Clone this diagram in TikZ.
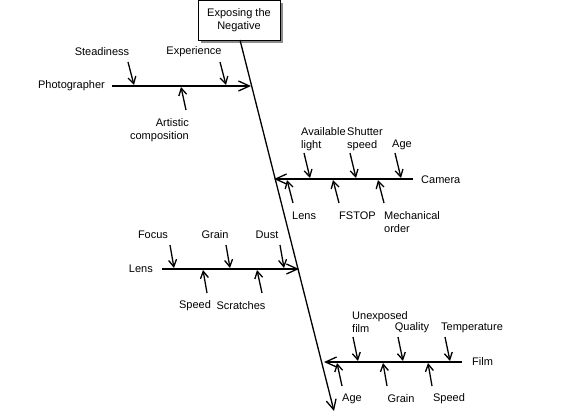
\documentclass[tikz,border=0pt]{standalone}
\usepackage{fontspec}
\setmainfont{Liberation Sans}
\usetikzlibrary{arrows.meta}
\tikzset{
  lbl/.style={inner sep=0pt, font=\fontsize{11}{13}\selectfont},
  bone/.style={line width=1.8pt, -{Straight Barb[length=11pt, width=10pt, line width=1.3pt]}},
  cause/.style={line width=1.3pt, -{Straight Barb[length=7pt, width=8pt, line width=1.3pt]}},
}
\begin{document}
\begin{tikzpicture}[x=1pt, y=-1pt]
  \useasboundingbox (0,0) rectangle (576,416);
  % effect box
  \fill[black!45] (201,3) rectangle (283,43);
  \node[draw, line width=1pt, fill=white, minimum width=82pt, minimum height=40pt, align=center, lbl] (neg) at (239,20) {Exposing the\\Negative};
  \coordinate (tail) at (240,40);
  \coordinate (head) at (334,411);
  \draw[line width=1.3pt, -{Straight Barb[length=10pt, width=10pt, line width=1.3pt]}] (tail) -- (head);
  % photographer
  \node[lbl, anchor=east] (phot) at (105,86) {Photographer};
  \coordinate (p0) at (112,86);
  \coordinate (p1) at (251,86);
  \draw[bone] (p0) -- (p1);
  \node[lbl] (stead) at (102,52) {Steadiness};
  \node[lbl] (exper) at (194,52) {Experience};
  \node[lbl, anchor=east, align=right] (art) at (189,130) {Artistic\\composition};
  \coordinate (s0) at (128,62); \coordinate (s1) at (134,85);
  \coordinate (e0) at (220,62); \coordinate (e1) at (226,85);
  \coordinate (a0) at (186,110); \coordinate (a1) at (181,87);
  \draw[cause] (s0) -- (s1);
  \draw[cause] (e0) -- (e1);
  \draw[cause] (a0) -- (a1);
  % camera
  \node[lbl, anchor=west] (cam) at (421,180) {Camera};
  \coordinate (c0) at (413,179);
  \coordinate (c1) at (274,179);
  \draw[bone] (c0) -- (c1);
  \node[lbl, anchor=west, align=left] (avail) at (301,139) {Available\\light};
  \node[lbl, anchor=west, align=left] (shut) at (347,139) {Shutter\\speed};
  \node[lbl] (agec) at (402,145) {Age};
  \node[lbl, anchor=west] (lensc) at (292,216) {Lens};
  \node[lbl, anchor=west] (fstop) at (339,216) {FSTOP};
  \node[lbl, anchor=west, align=left] (mech) at (384,222) {Mechanical\\order};
  \coordinate (v0) at (304,153); \coordinate (v1) at (310,178);
  \coordinate (h0) at (350,153); \coordinate (h1) at (356,178);
  \coordinate (g0) at (395,153); \coordinate (g1) at (401,178);
  \coordinate (l0) at (293,203); \coordinate (l1) at (287,180);
  \coordinate (f0) at (339,203); \coordinate (f1) at (333,180);
  \coordinate (m0) at (384,203); \coordinate (m1) at (378,180);
  \foreach \a/\b in {v0/v1, h0/h1, g0/g1, l0/l1, f0/f1, m0/m1}
    \draw[cause] (\a) -- (\b);
  % lens
  \node[lbl, anchor=east] (lens) at (153,269) {Lens};
  \coordinate (n0) at (162,269);
  \coordinate (n1) at (299,269);
  \draw[bone] (n0) -- (n1);
  \node[lbl] (focus) at (153,235) {Focus};
  \node[lbl] (grainl) at (215,235) {Grain};
  \node[lbl] (dust) at (267,235) {Dust};
  \node[lbl] (speedl) at (195,306) {Speed};
  \node[lbl] (scratch) at (241,306) {Scratches};
  \coordinate (o0) at (170,245); \coordinate (o1) at (174,268);
  \coordinate (r0) at (226,245); \coordinate (r1) at (230,268);
  \coordinate (d0) at (280,245); \coordinate (d1) at (284,268);
  \coordinate (q0) at (207,293); \coordinate (q1) at (203,270);
  \coordinate (k0) at (262,293); \coordinate (k1) at (257,270);
  \foreach \a/\b in {o0/o1, r0/r1, d0/d1, q0/q1, k0/k1}
    \draw[cause] (\a) -- (\b);
  % film
  \node[lbl, anchor=west] (film) at (472,362) {Film};
  \coordinate (i0) at (462,362);
  \coordinate (i1) at (324,362);
  \draw[bone] (i0) -- (i1);
  \node[lbl, anchor=west, align=left] (unexp) at (352,322) {Unexposed\\film};
  \node[lbl] (qual) at (412,328) {Quality};
  \node[lbl] (temp) at (472,328) {Temperature};
  \node[lbl] (agef) at (352,399) {Age};
  \node[lbl] (grainf) at (401,399) {Grain};
  \node[lbl] (speedf) at (449,399) {Speed};
  \coordinate (u0) at (353,337); \coordinate (u1) at (358,361);
  \coordinate (y0) at (398,337); \coordinate (y1) at (403,361);
  \coordinate (t0) at (445,337); \coordinate (t1) at (450,361);
  \coordinate (z0) at (342,386); \coordinate (z1) at (337,363);
  \coordinate (w0) at (387,386); \coordinate (w1) at (383,363);
  \coordinate (x0) at (432,386); \coordinate (x1) at (428,363);
  \foreach \a/\b in {u0/u1, y0/y1, t0/t1, z0/z1, w0/w1, x0/x1}
    \draw[cause] (\a) -- (\b);
\end{tikzpicture}
\end{document}
